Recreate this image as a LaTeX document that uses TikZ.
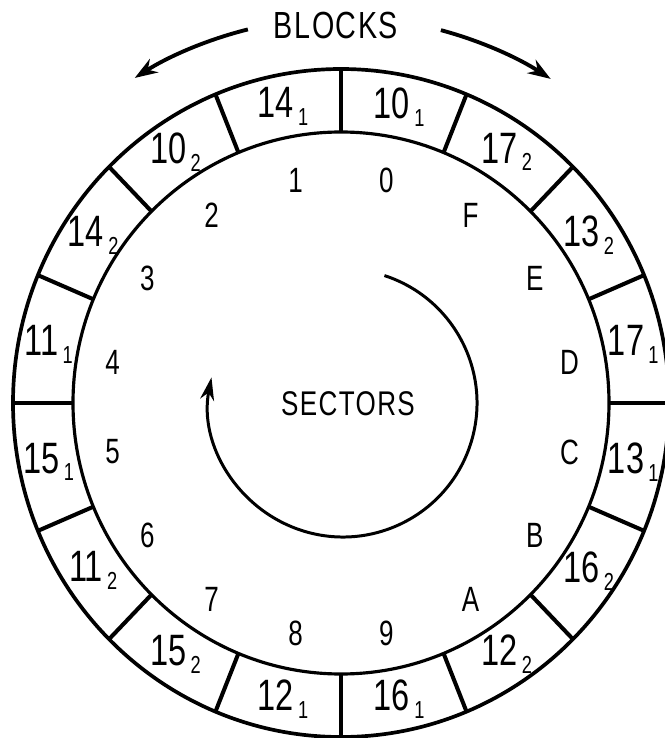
\documentclass[tikz,border=0pt]{standalone}
\usepackage{fontspec}
\setmainfont{Liberation Sans}[FakeStretch=0.74]
\newfontfamily\capfont{Liberation Sans}[FakeStretch=0.76, LetterSpace=4]
\usetikzlibrary{arrows.meta,calc}
\newcommand{\blklab}[2]{#1\kern2.5pt{\fontsize{14}{14}\selectfont\raisebox{-4.5pt}{#2}}}
\tikzset{
  ring/.style={line width=2.1pt},
  innerring/.style={line width=1.8pt},
  divider/.style={line width=2.3pt},
  blocklab/.style={inner sep=0pt, font=\fontsize{25}{25}\selectfont},
  seclab/.style={inner sep=0pt, font=\fontsize{20}{20}\selectfont},
  title/.style={inner sep=0pt, font=\capfont\fontsize{21.5}{21.5}\selectfont},
  turn/.style={line width=2.2pt, -{Stealth[length=13pt, width=9pt]}},
  spiral/.style={line width=1.7pt, -{Stealth[length=13pt, width=8pt]}}
}
\begin{document}
\begin{tikzpicture}[x=0.02cm, y=0.02cm]
\useasboundingbox (0,0) rectangle (665,738);
\coordinate (c) at (341,335);
\coordinate (cl) at (341,331);
\coordinate (cs) at (343,335);
% rings
\draw[ring] (c) ellipse [x radius=328, y radius=334];
\draw[innerring] (c) ellipse [x radius=268, y radius=271];
% dividers
\foreach \a in {0,22.5,...,337.5}
  \draw[divider] ($(c)+(\a:268 and 271)$) -- ($(c)+(\a:328 and 334)$);
% block labels
\foreach \n/\s [count=\i from 0] in {10/1,17/2,13/2,17/1,13/1,16/2,12/2,16/1,12/1,15/2,11/2,15/1,11/1,14/2,10/2,14/1} {
  \pgfmathsetmacro\ang{78.75-22.5*\i}
  \node[blocklab] (b\i) at ($(c)+(\ang:298 and 302)$) {\blklab{\n}{\s}};
}
% sector labels
\foreach \t [count=\i from 0] in {0,F,E,D,C,B,A,9,8,7,6,5,4,3,2,1} {
  \pgfmathsetmacro\ang{78.75-22.5*\i}
  \node[seclab] (s\i) at ($(cl)+(\ang:233 and 231)$) {\t};
}
% titles
\node[title] (blocks) at (336,713) {BLOCKS};
\node[seclab, font=\capfont\fontsize{19.5}{19.5}\selectfont] (sectors) at (348,334) {SECTORS};
% block arrows
\draw[turn] ($(c)+(104:385)$) arc[start angle=104, end angle=122.4, radius=385];
\draw[turn] ($(c)+(75:386)$) arc[start angle=75, end angle=57.1, radius=386];
% sector spiral
\draw[spiral] ($(cs)+(72:134)$) arc[start angle=72, end angle=-191, radius=134];
\end{tikzpicture}
\end{document}
